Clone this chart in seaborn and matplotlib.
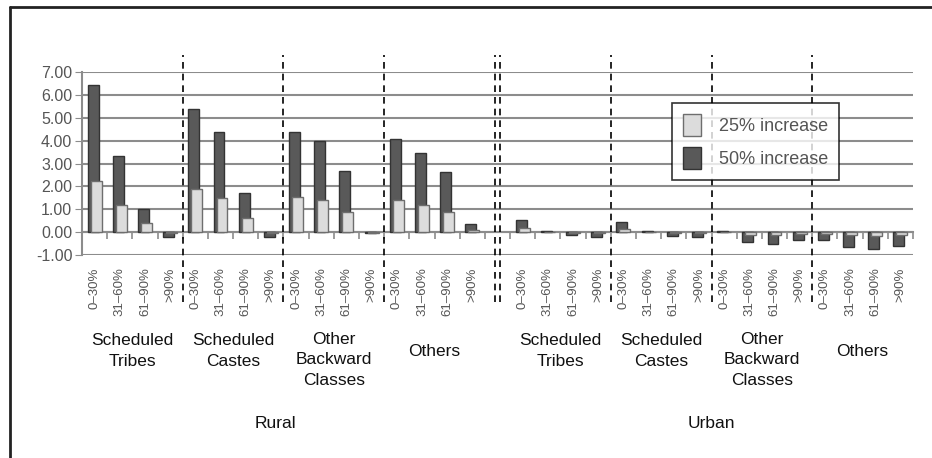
import numpy as np
import pandas as pd
import matplotlib
matplotlib.use('Agg')
import matplotlib.pyplot as plt
from matplotlib.lines import Line2D
from matplotlib.ticker import FormatStrFormatter
import seaborn as sns

# ---------------------------------------------------------------------------
# data
# ---------------------------------------------------------------------------
areas = ['Rural', 'Urban']
groups = ['Scheduled\nTribes', 'Scheduled\nCastes', 'Other\nBackward\nClasses', 'Others']
bands = ['0–30%', '31–60%', '61–90%', '>90%']
series = ['25% increase', '50% increase']

# 4 groups x 4 bands per area, in reading order
rural_25 = [2.24, 1.18, 0.38, -0.05,
            1.87, 1.48, 0.60, -0.05,
            1.55, 1.40, 0.89, -0.03,
            1.40, 1.20, 0.90, 0.09]
rural_50 = [6.42, 3.33, 1.00, -0.20,
            5.38, 4.36, 1.70, -0.20,
            4.36, 4.00, 2.69, -0.05,
            4.07, 3.48, 2.63, 0.35]
urban_25 = [0.19, 0.02, -0.03, -0.05,
            0.13, 0.02, -0.05, -0.05,
            0.02, -0.13, -0.13, -0.10,
            -0.10, -0.13, -0.15, -0.12]
urban_50 = [0.53, 0.03, -0.13, -0.22,
            0.44, 0.03, -0.17, -0.22,
            0.05, -0.42, -0.50, -0.35,
            -0.33, -0.67, -0.72, -0.61]

# ---------------------------------------------------------------------------
# long table, one empty slot between the two areas
# ---------------------------------------------------------------------------
slot_order, slot_labels = [], []
rows = []
for area, v25, v50 in zip(areas, [rural_25, urban_25], [rural_50, urban_50]):
    if area == 'Urban':
        slot_order.append('gap')
        slot_labels.append('')
    k = 0
    for g in groups:
        for b in bands:
            key = f'{area}|{g}|{b}'
            slot_order.append(key)
            slot_labels.append(b)
            rows.append((key, series[0], v25[k]))
            rows.append((key, series[1], v50[k]))
            k += 1
df = pd.DataFrame(rows, columns=['slot', 'series', 'value'])

DARK = '#595959'
LIGHT = '#dcdcdc'
GRID = '#8c8c8c'
TXT = '#555555'

sns.set_style('white')
plt.rcParams['font.family'] = ['Liberation Sans', 'DejaVu Sans']

W, H = 932, 458
fig = plt.figure(figsize=(W / 100, H / 100), dpi=100)
ax = fig.add_axes([82 / W, 1 - 255 / H, (913 - 82) / W, (255 - 72) / H])

sns.barplot(data=df, x='slot', y='value', hue='series', order=slot_order,
            hue_order=[series[1], series[0]],
            palette={series[0]: LIGHT, series[1]: DARK},
            width=0.24, gap=-2.6, dodge=True, errorbar=None,
            saturation=1, linewidth=1, ax=ax, legend=False)

# edge colours per series (dark drawn first, light on top)
c50, c25 = ax.containers[0], ax.containers[1]
for p in c50:
    p.set_edgecolor('#333333')
for p in c25:
    p.set_edgecolor('#6e6e6e')

n = len(slot_order)
ax.set_xlim(-0.5, n - 0.5)
ax.set_ylim(-1, 7)
ax.set_yticks(range(-1, 8))
ax.yaxis.set_major_formatter(FormatStrFormatter('%.2f'))
ax.set_xticks(range(n))
ax.set_xticklabels(slot_labels, rotation=90, fontsize=9.5, color=TXT)
ax.tick_params(axis='x', length=0, pad=9)
ax.tick_params(axis='y', labelsize=11.5, labelcolor=TXT, length=5, color=GRID,
               direction='out', left=True, pad=2)
ax.set_xlabel('')
ax.set_ylabel('')
ax.yaxis.grid(True, color=GRID, linewidth=1.5)
ax.set_axisbelow(True)
for s in ['top', 'right', 'bottom']:
    ax.spines[s].set_visible(False)
ax.spines['left'].set_color(GRID)
ax.spines['left'].set_linewidth(1.5)

# category axis crossing at zero with boundary ticks
sec = ax.secondary_xaxis(1 / 8)
sec.set_xticks(np.arange(-0.5, n))
sec.set_xticklabels([])
sec.tick_params(axis='x', length=5, color=GRID, width=1.2, direction='out')
sec.spines['bottom'].set_color(GRID)
sec.spines['bottom'].set_linewidth(1.5)

# dashed group separators
dash = dict(color='black', linewidth=1.2, linestyle=(0, (4, 3)), clip_on=False)
gap_idx = slot_order.index('gap')
for i in range(1, 8):
    if i == 4:
        for off in (-0.08, 0.08):
            ax.axvline(gap_idx + off, ymin=-0.257, ymax=1.093, **dash)
        continue
    base = 0 if i < 4 else gap_idx + 1
    j = i if i < 4 else i - 4
    ax.axvline(base + 4 * j - 0.5, ymin=-0.257, ymax=1.093, **dash)

# group and area labels below the tick labels
trans = ax.get_xaxis_transform()
for a_i in range(2):
    base = 0 if a_i == 0 else gap_idx + 1
    for g_i, g in enumerate(groups):
        yc = (255 - (360 if g_i == 2 else 351)) / 183
        ax.text(base + 4 * g_i + 1.5, yc, g, transform=trans, ha='center',
                va='center', fontsize=12.5, color='#111111', linespacing=1.45)
    ax.text(base + 7.2 if a_i == 0 else base + 7.5, (255 - 423) / 183, areas[a_i],
            transform=trans, ha='center', va='center', fontsize=12.5, color='#111111')

leg = ax.legend(handles=[c25, c50], labels=series, loc='upper left',
                bbox_to_anchor=(0.71, 0.83), frameon=True, fancybox=False,
                fontsize=13, handlelength=1.0, handleheight=1.5,
                labelspacing=0.6, borderpad=0.6, handletextpad=1.0,
                labelcolor=TXT, borderaxespad=0)
leg.get_frame().set_edgecolor('black')
leg.get_frame().set_linewidth(1.2)

# outer frame (top and left edges only)
fig.add_artist(Line2D([10 / W, 10 / W], [0, 1 - 7 / H], transform=fig.transFigure,
                      color='#222222', linewidth=2))
fig.add_artist(Line2D([10 / W, 1], [1 - 7 / H, 1 - 7 / H], transform=fig.transFigure,
                      color='#222222', linewidth=2))

fig.savefig('out.png', dpi=100)
